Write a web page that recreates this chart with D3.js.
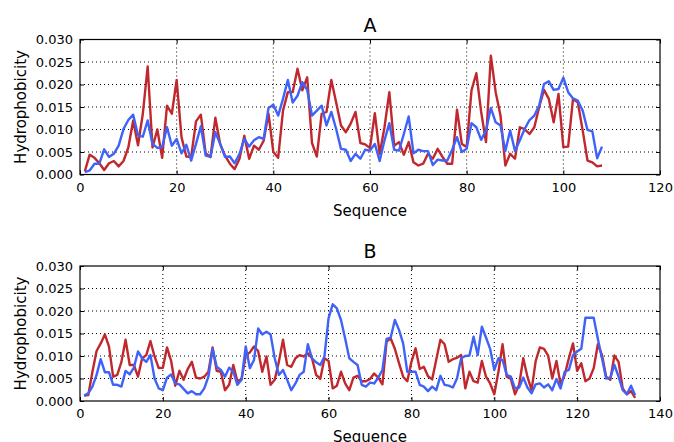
<!DOCTYPE html>
<html lang="en">
<head>
<meta charset="UTF-8">
<title>Hydrophobicity</title>
<script src="https://d3js.org/d3.v7.min.js"></script>
<style>
  body { margin: 0; background: #fff; }
  text { font-family: "DejaVu Sans", sans-serif; fill: #000; }
</style>
</head>
<body>
<script>
// panel A values (sequence positions 1..108)
var redA = [0.0007,0.0044,0.0037,0.0025,0.0010,0.0025,0.0030,0.0018,0.0030,0.0060,
  0.0120,0.0065,0.0135,0.0240,0.0060,0.0100,0.0037,0.0153,0.0135,0.0210,
  0.0083,0.0040,0.0039,0.0118,0.0133,0.0047,0.0039,0.0126,0.0068,0.0042,
  0.0024,0.0012,0.0035,0.0086,0.0035,0.0064,0.0055,0.0075,0.0135,0.0050,
  0.0037,0.0142,0.0183,0.0183,0.0235,0.0187,0.0216,0.0070,0.0040,0.0135,
  0.0139,0.0210,0.0160,0.0109,0.0094,0.0113,0.0139,0.0070,0.0067,0.0059,
  0.0136,0.0046,0.0105,0.0183,0.0064,0.0072,0.0044,0.0072,0.0027,0.0020,
  0.0024,0.0046,0.0035,0.0057,0.0039,0.0024,0.0024,0.0144,0.0068,0.0061,
  0.0187,0.0225,0.0139,0.0072,0.0264,0.0183,0.0131,0.0020,0.0046,0.0035,
  0.0105,0.0101,0.0090,0.0105,0.0150,0.0188,0.0168,0.0116,0.0179,0.0061,
  0.0062,0.0168,0.0160,0.0098,0.0031,0.0027,0.0018,0.0020];
var blueA = [0.0005,0.0009,0.0024,0.0024,0.0056,0.0039,0.0046,0.0064,0.0101,0.0121,
  0.0133,0.0087,0.0084,0.0120,0.0068,0.0059,0.0061,0.0105,0.0064,0.0079,
  0.0047,0.0066,0.0031,0.0068,0.0107,0.0042,0.0039,0.0094,0.0068,0.0039,
  0.0040,0.0025,0.0046,0.0079,0.0062,0.0076,0.0083,0.0079,0.0148,0.0155,
  0.0131,0.0168,0.0210,0.0160,0.0175,0.0205,0.0188,0.0131,0.0142,0.0153,
  0.0109,0.0139,0.0101,0.0057,0.0055,0.0030,0.0046,0.0035,0.0055,0.0053,
  0.0068,0.0030,0.0076,0.0114,0.0055,0.0053,0.0090,0.0129,0.0047,0.0055,
  0.0052,0.0052,0.0021,0.0033,0.0031,0.0031,0.0055,0.0083,0.0050,0.0057,
  0.0114,0.0105,0.0077,0.0098,0.0148,0.0116,0.0109,0.0052,0.0098,0.0052,
  0.0076,0.0101,0.0121,0.0131,0.0153,0.0201,0.0207,0.0188,0.0190,0.0215,
  0.0183,0.0169,0.0164,0.0142,0.0099,0.0096,0.0036,0.0062];

// panel B values (sequence positions 1..134)
var redB = [0.0012,0.0013,0.0065,0.0111,0.0128,0.0148,0.0121,0.0054,0.0058,0.0087,
  0.0136,0.0080,0.0080,0.0054,0.0095,0.0102,0.0133,0.0099,0.0073,0.0074,
  0.0119,0.0089,0.0034,0.0067,0.0047,0.0071,0.0087,0.0052,0.0050,0.0054,
  0.0065,0.0119,0.0067,0.0065,0.0024,0.0036,0.0080,0.0044,0.0049,0.0101,
  0.0108,0.0121,0.0111,0.0065,0.0099,0.0036,0.0047,0.0087,0.0136,0.0080,
  0.0076,0.0095,0.0102,0.0099,0.0106,0.0095,0.0058,0.0049,0.0095,0.0089,
  0.0028,0.0034,0.0065,0.0039,0.0024,0.0052,0.0056,0.0044,0.0044,0.0049,
  0.0061,0.0052,0.0037,0.0132,0.0139,0.0116,0.0084,0.0054,0.0044,0.0087,
  0.0117,0.0071,0.0076,0.0055,0.0048,0.0092,0.0136,0.0126,0.0087,0.0093,
  0.0096,0.0102,0.0028,0.0065,0.0044,0.0041,0.0089,0.0054,0.0039,0.0015,
  0.0065,0.0126,0.0054,0.0049,0.0015,0.0036,0.0095,0.0054,0.0024,0.0089,
  0.0119,0.0116,0.0101,0.0050,0.0089,0.0037,0.0058,0.0095,0.0128,0.0067,
  0.0084,0.0044,0.0050,0.0073,0.0126,0.0102,0.0054,0.0047,0.0101,0.0087,
  0.0028,0.0015,0.0022,0.0007];
var blueB = [0.0012,0.0017,0.0032,0.0058,0.0093,0.0064,0.0064,0.0036,0.0036,0.0032,
  0.0067,0.0059,0.0074,0.0110,0.0095,0.0087,0.0102,0.0050,0.0028,0.0024,
  0.0052,0.0059,0.0039,0.0037,0.0027,0.0017,0.0022,0.0015,0.0015,0.0028,
  0.0054,0.0116,0.0076,0.0069,0.0054,0.0074,0.0065,0.0036,0.0047,0.0121,
  0.0073,0.0091,0.0161,0.0148,0.0154,0.0148,0.0095,0.0058,0.0069,0.0047,
  0.0024,0.0039,0.0058,0.0065,0.0126,0.0095,0.0086,0.0080,0.0099,0.0184,
  0.0215,0.0206,0.0180,0.0139,0.0095,0.0087,0.0080,0.0036,0.0032,0.0041,
  0.0039,0.0052,0.0069,0.0138,0.0141,0.0180,0.0158,0.0128,0.0065,0.0065,
  0.0065,0.0036,0.0032,0.0022,0.0032,0.0024,0.0056,0.0036,0.0034,0.0030,
  0.0050,0.0095,0.0100,0.0101,0.0143,0.0102,0.0165,0.0141,0.0116,0.0069,
  0.0095,0.0091,0.0058,0.0054,0.0028,0.0030,0.0052,0.0030,0.0017,0.0037,
  0.0039,0.0030,0.0037,0.0024,0.0049,0.0028,0.0065,0.0069,0.0102,0.0110,
  0.0116,0.0185,0.0185,0.0185,0.0138,0.0095,0.0050,0.0052,0.0080,0.0054,
  0.0024,0.0015,0.0034,0.0013];

var yTicks = [0, 0.005, 0.010, 0.015, 0.020, 0.025, 0.030];
var xTicksA = [0, 20, 40, 60, 80, 100, 120];
var xTicksB = [0, 20, 40, 60, 80, 100, 120, 140];

var width = 674, height = 442;
var svg = d3.select("body").append("svg")
    .attr("width", width)
    .attr("height", height);

var red = "#c0282d", blue = "#3f62f8";

function drawPanel(title, top, xMax, xTicks, series) {
    var left = 80, right = 660, bottom = top + 135;
    var x = d3.scaleLinear().domain([0, xMax]).range([left, right]);
    var y = d3.scaleLinear().domain([0, 0.030]).range([bottom, top]);
    var g = svg.append("g");

    // dotted grid
    g.selectAll(".gx").data(xTicks.slice(1, -1)).enter().append("line")
        .attr("x1", d => x(d)).attr("x2", d => x(d))
        .attr("y1", top).attr("y2", bottom)
        .attr("stroke", "#000").attr("stroke-width", 1)
        .attr("stroke-dasharray", "1,3");
    g.selectAll(".gy").data(yTicks.slice(1, -1)).enter().append("line")
        .attr("x1", left).attr("x2", right)
        .attr("y1", d => y(d)).attr("y2", d => y(d))
        .attr("stroke", "#000").attr("stroke-width", 1)
        .attr("stroke-dasharray", "1,3");

    // axes (ticks pointing inward, like matplotlib classic)
    var fmt = d3.format(".3f");
    g.append("g").attr("transform", "translate(0," + bottom + ")")
        .call(d3.axisBottom(x).tickValues(xTicks).tickSizeInner(-4).tickSizeOuter(0).tickPadding(8))
        .call(a => a.select(".domain").remove());
    g.append("g").attr("transform", "translate(" + left + ",0)")
        .call(d3.axisLeft(y).tickValues(yTicks).tickFormat(fmt).tickSizeInner(-4).tickSizeOuter(0).tickPadding(7))
        .call(a => a.select(".domain").remove());
    g.append("g").attr("transform", "translate(0," + top + ")")
        .call(d3.axisTop(x).tickValues(xTicks).tickSizeInner(-4).tickSizeOuter(0).tickFormat(""))
        .call(a => a.select(".domain").remove());
    g.append("g").attr("transform", "translate(" + right + ",0)")
        .call(d3.axisRight(y).tickValues(yTicks).tickSizeInner(-4).tickSizeOuter(0).tickFormat(""))
        .call(a => a.select(".domain").remove());
    g.selectAll(".tick text")
        .style("font-family", "'DejaVu Sans', sans-serif")
        .style("font-size", "13px")
        .attr("fill", "#000");

    // series
    var line = d3.line()
        .x((d, i) => x(i + 1))
        .y(d => y(d));
    series.forEach(function (s) {
        g.append("path")
            .datum(s.values)
            .attr("fill", "none")
            .attr("stroke", s.color)
            .attr("stroke-width", 2.4)
            .attr("stroke-linejoin", "round")
            .attr("d", line);
    });

    // frame
    g.append("rect")
        .attr("x", left).attr("y", top)
        .attr("width", right - left).attr("height", bottom - top)
        .attr("fill", "none").attr("stroke", "#000").attr("stroke-width", 1.2);

    // labels
    g.append("text")
        .attr("x", (left + right) / 2).attr("y", top - 8)
        .attr("text-anchor", "middle")
        .style("font-size", "19px")
        .text(title);
    g.append("text")
        .attr("x", (left + right) / 2).attr("y", bottom + 41)
        .attr("text-anchor", "middle")
        .style("font-size", "15px")
        .text("Sequence");
    g.append("text")
        .attr("transform", "translate(26," + (top + bottom) / 2 + ") rotate(-90)")
        .attr("text-anchor", "middle")
        .style("font-size", "15px")
        .text("Hydrophobicity");
}

drawPanel("A", 39.5, 120, xTicksA, [
    {values: redA, color: red},
    {values: blueA, color: blue}
]);
drawPanel("B", 266, 140, xTicksB, [
    {values: redB, color: red},
    {values: blueB, color: blue}
]);
</script>
</body>
</html>
